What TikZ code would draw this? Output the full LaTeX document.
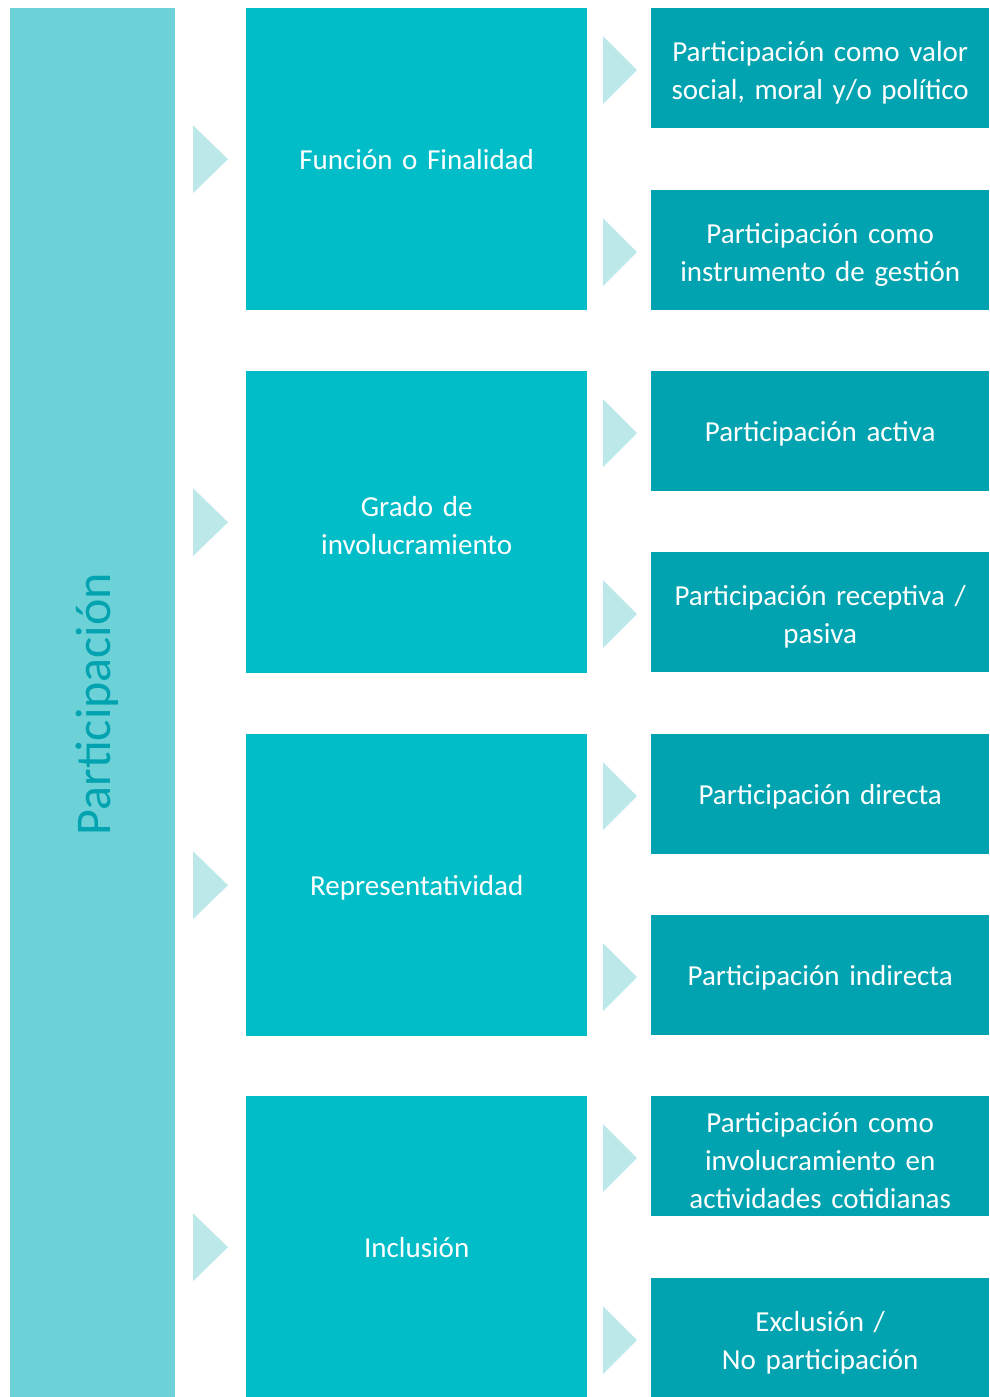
\documentclass[tikz,border=0pt]{standalone}
\usepackage{fontspec}
\setmainfont{Carlito}
\usetikzlibrary{positioning}
\definecolor{barcol}{HTML}{6CD2D8}
\definecolor{midcol}{HTML}{00BDC8}
\definecolor{subcol}{HTML}{00A3AF}
\definecolor{tricol}{HTML}{BDE8EA}
\tikzset{
    catbox/.style = { rectangle, fill=midcol, text=white, anchor=north west,
	minimum width=341pt, minimum height=302pt, text width=330pt, align=center,
	inner sep=0pt, font=\fontsize{29}{38}\selectfont,
	execute at end node=\par\vspace{-6pt} },
	subbox/.style = { rectangle, fill=subcol, text=white, anchor=north west,
	minimum width=338pt, minimum height=120pt, text width=334pt, align=center,
	inner sep=0pt, font=\fontsize{29}{38}\selectfont,
	execute at end node=\par\vspace{-9pt} },
	tri/.style    = { fill=tricol },
}

\begin{document}
\begin{tikzpicture}[x=1pt,y=-1pt]
\useasboundingbox (0,0) rectangle (989,1397);
% barra lateral
\fill[barcol] (10,8) rectangle (175,1397);
\node[rotate=90, text=subcol, font=\fontsize{50}{50}\selectfont] (part) at (97,704) {Participación};
% categorias
\node[catbox] (funcion) at (246,8) {Función o Finalidad};
\node[catbox] (grado) at (246,371) {Grado de\\involucramiento};
\node[catbox] (repre) at (246,734) {Representatividad};
\node[catbox] (inclu) at (246,1096) {Inclusión};
% subcategorias
\node[subbox] (valor) at (651,8) {Participación como valor\\social, moral y/o político};
\node[subbox] (gestion) at (651,190) {Participación como\\instrumento de gestión};
\node[subbox] (activa) at (651,371) {Participación activa};
\node[subbox] (pasiva) at (651,552) {Participación receptiva /\\pasiva};
\node[subbox] (directa) at (651,734) {Participación directa};
\node[subbox] (indirecta) at (651,915) {Participación indirecta};
\node[subbox] (cotid) at (651,1096) {Participación como\\involucramiento en\\actividades cotidianas};
\node[subbox] (exclu) at (651,1278) {Exclusión /\\No participación};
% flechas
\foreach \n in {funcion,grado,repre,inclu}
  \fill[tri] (193,0 |- \n.west) ++(0,-34) -- ++(35,34) -- ++(-35,34) -- cycle;
\foreach \n in {valor,gestion,activa,pasiva,directa,indirecta,cotid,exclu}
  \fill[tri] (603,0 |- \n.west) ++(0,-32) -- ++(34,34) -- ++(-34,34) -- cycle;
\end{tikzpicture}
\end{document}
